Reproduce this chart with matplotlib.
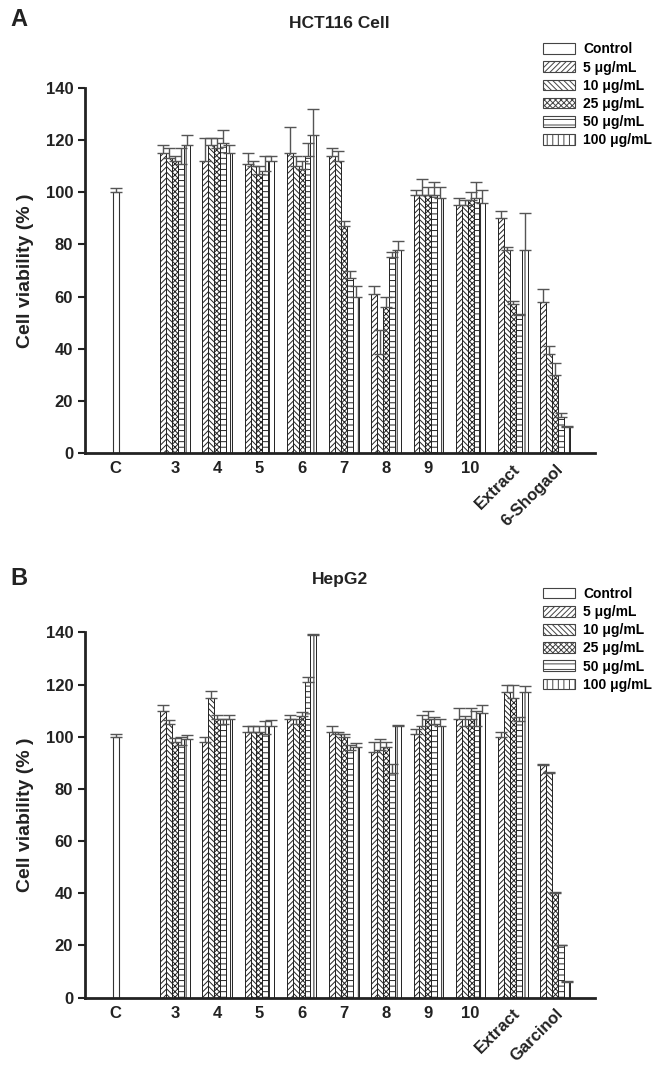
import numpy as np
import matplotlib
matplotlib.use('Agg')
import matplotlib.pyplot as plt
from matplotlib.patches import Patch

plt.rcParams['font.family'] = ['Liberation Sans', 'DejaVu Sans']
plt.rcParams['font.weight'] = 'bold'
plt.rcParams['hatch.linewidth'] = 0.7

doses = ['Control', '5 μg/mL', '10 μg/mL', '25 μg/mL', '50 μg/mL', '100 μg/mL']
hatches = ['', '//////', '\\\\\\\\\\\\', 'xxxxxx', '---', '|||']

# panel A: HCT116 cell
groups_a = ['3', '4', '5', '6', '7', '8', '9', '10', 'Extract', '6-Shogaol']
ctrl_a, ctrl_err_a = 100, 1.5
a5 = [115, 112, 111, 115, 114, 61, 99, 95, 90, 58]
a10 = [113, 118, 110, 110, 112, 38, 99, 95, 78, 38]
a25 = [112, 117, 107, 109, 87, 56, 99, 97, 57, 30]
a50 = [111, 119, 108, 114, 67, 75, 99, 98, 53, 14]
a100 = [118, 115, 112, 122, 60, 78, 98, 96, 78, 10]
ea5 = [3, 9, 4, 10, 3, 3, 2, 3, 3, 5]
ea10 = [4, 3, 2, 4, 4, 9, 6, 2, 1, 3]
ea25 = [2, 4, 3, 3, 2, 4, 3, 3, 1.5, 4.5]
ea50 = [6, 5, 6, 5, 3, 2, 5, 6, 0.5, 1.5]
ea100 = [4, 3, 2, 10, 4, 3.5, 4, 5, 14, 0.3]

# panel B: HepG2
groups_b = ['3', '4', '5', '6', '7', '8', '9', '10', 'Extract', 'Garcinol']
ctrl_b, ctrl_err_b = 100, 1
b5 = [110, 98, 102, 107, 102, 94, 101, 107, 100, 89]
b10 = [105, 115, 102, 105, 101, 95, 104, 104, 117, 86]
b25 = [98, 107, 102, 108, 100, 96, 107, 107, 115, 40]
b50 = [97, 105, 101, 121, 95, 86, 105, 104, 106, 20]
b100 = [99, 107, 104, 139, 96, 104, 104, 109, 117, 6]
eb5 = [2, 2, 2, 1.5, 2, 4, 2, 4, 2, 0.5]
eb10 = [1.5, 2.5, 2, 2, 1, 4, 4.5, 4, 3, 0.5]
eb25 = [1.5, 1.5, 2, 1.5, 1, 2, 3, 4, 5, 0.3]
eb50 = [3, 2, 5, 2, 2, 3.5, 2.5, 6, 1.5, 0.3]
eb100 = [1.5, 1.5, 2.5, 0.5, 1.5, 0.5, 3, 3, 2.5, 0.3]

TXT = '#222222'
ERR = '#555555'
W = 0.14
CX = -1.4


def panel(ax, groups, ctrl, ctrl_err, series, errs):
    x = np.arange(len(groups))
    ax.bar(CX, ctrl, W, color='white', edgecolor='#333333', linewidth=0.8,
           yerr=[[0], [ctrl_err]], error_kw=dict(ecolor=ERR, elinewidth=1, capsize=4, capthick=1))
    for i, (vals, err) in enumerate(zip(series, errs)):
        off = (i - 2) * W
        ax.bar(x + off, vals, W, color='white', edgecolor='#222222', linewidth=0.7,
               hatch=hatches[i + 1],
               yerr=[np.zeros(len(err)), err],
               error_kw=dict(ecolor=ERR, elinewidth=1, capsize=4, capthick=1))
    ax.set_xlim(-2.13, 9.95)
    ax.set_ylim(0, 140)
    ax.set_yticks(range(0, 141, 20))
    ax.set_xticks([CX] + list(x))
    ax.set_xticklabels(['C'] + groups)
    ax.tick_params(axis='x', length=0, pad=6, labelsize=12, colors=TXT)
    ax.tick_params(axis='y', length=5, width=1.5, labelsize=12, colors=TXT, direction='out')
    for lab in ax.get_xticklabels()[-2:]:
        lab.set_rotation(45)
        lab.set_ha('right')
        lab.set_va('top')
        lab.set_rotation_mode('anchor')
    for lab in ax.get_xticklabels() + ax.get_yticklabels():
        lab.set_fontweight('bold')
    ax.spines['top'].set_visible(False)
    ax.spines['right'].set_visible(False)
    ax.spines['left'].set_linewidth(2)
    ax.spines['bottom'].set_linewidth(2)
    ax.spines['left'].set_color(TXT)
    ax.spines['bottom'].set_color(TXT)
    ax.set_ylabel('Cell viability (% )', fontsize=14, fontweight='bold', color=TXT, labelpad=8)
    handles = [Patch(facecolor='white', edgecolor='#444444', linewidth=0.8, hatch=h) for h in hatches]
    ax.legend(handles, doses, loc='upper left', bbox_to_anchor=(0.887, 1.14),
              frameon=False, handlelength=2.3, handleheight=0.8,
              labelspacing=0.3, handletextpad=0.6, borderaxespad=0,
              prop=dict(weight='bold', size=10))


fig = plt.figure(figsize=(6.66, 10.68), dpi=100)
ax_a = fig.add_axes([0.1276, 0.5758, 0.766, 0.3418])
ax_b = fig.add_axes([0.1276, 0.0660, 0.766, 0.3418])

panel(ax_a, groups_a, ctrl_a, ctrl_err_a, [a5, a10, a25, a50, a100], [ea5, ea10, ea25, ea50, ea100])
panel(ax_b, groups_b, ctrl_b, ctrl_err_b, [b5, b10, b25, b50, b100], [eb5, eb10, eb25, eb50, eb100])

fig.text(0.51, 0.978, 'HCT116 Cell', ha='center', va='center', fontsize=12.5, fontweight='bold', color=TXT)
fig.text(0.51, 0.457, 'HepG2', ha='center', va='center', fontsize=12.5, fontweight='bold', color=TXT)
fig.text(0.015, 0.982, 'A', ha='left', va='center', fontsize=17, fontweight='bold', color=TXT)
fig.text(0.015, 0.458, 'B', ha='left', va='center', fontsize=17, fontweight='bold', color=TXT)

plt.savefig('out.png', dpi=100)
